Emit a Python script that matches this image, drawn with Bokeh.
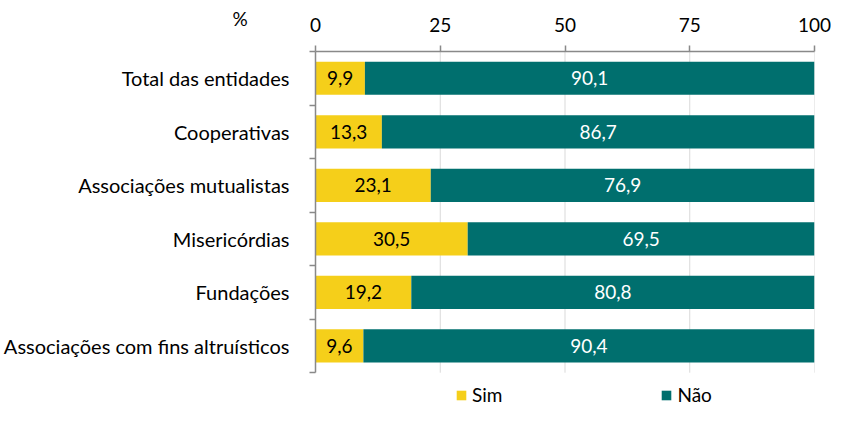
from bokeh.plotting import figure
from bokeh.models import ColumnDataSource, FixedTicker, Range1d, Legend
from bokeh.core.properties import value
from bokeh.embed import file_html
from bokeh.resources import INLINE

categories = ["Total das entidades", "Cooperativas", "Associações mutualistas",
              "Misericórdias", "Fundações", "Associações com fins altruísticos"]
sim = [9.9, 13.3, 23.1, 30.5, 19.2, 9.6]
nao = [90.1, 86.7, 76.9, 69.5, 80.8, 90.4]
x_ticks = [0, 25, 50, 75, 100]
series = ["Sim", "Não"]
unit_label = "%"

SIM_C = "#F5CF1A"
NAO_C = "#006F6E"
COLORS = [SIM_C, NAO_C]
FONT = "Lato"
GRAY = "#898989"

n = len(categories)
ypos = [n - 0.5 - i for i in range(n)]

def fmt(v):
    return f"{v:.1f}".replace(".", ",")

src = ColumnDataSource(dict(
    y=ypos, Sim=sim, Não=nao,
    sim_mid=[s / 2 for s in sim],
    nao_mid=[s + q / 2 for s, q in zip(sim, nao)],
    sim_lbl=[fmt(v) for v in sim],
    nao_lbl=[fmt(v) for v in nao],
))

# the y range reaches below the last bar to leave room for the legend
p = figure(width=831, height=407, output_backend="svg", toolbar_location=None,
           x_range=Range1d(0, 100), y_range=Range1d(-0.65, n),
           x_axis_location="above",
           min_border_left=308, min_border_right=17, min_border_top=48,
           min_border_bottom=0)
p.outline_line_color = None
p.xgrid.grid_line_color = None
p.ygrid.grid_line_color = None

# vertical gridlines at the tick values, limited to the category block
p.segment(x0=x_ticks, x1=x_ticks, y0=[0] * len(x_ticks), y1=[n] * len(x_ticks),
          line_color="#D9D9D9", line_width=1, level="underlay")

rs = p.hbar_stack(series, y="y", height=0.62, color=COLORS, source=src,
                  line_color=None)

p.text(x="sim_mid", y="y", text="sim_lbl", source=src, text_align="center",
       text_baseline="middle", text_font=value(FONT), text_font_size="19px",
       text_color="#000000")
p.text(x="nao_mid", y="y", text="nao_lbl", source=src, text_align="center",
       text_baseline="middle", text_font=value(FONT), text_font_size="19px",
       text_color="#FFFFFF")

# top axis
xa = p.xaxis[0]
xa.ticker = FixedTicker(ticks=x_ticks, minor_ticks=[])
xa.axis_line_color = GRAY
xa.axis_line_width = 1.5
xa.major_tick_line_color = GRAY
xa.major_tick_line_width = 1.5
xa.major_tick_out = 6
xa.major_tick_in = 0
xa.minor_tick_line_color = None
xa.major_label_standoff = 14
xa.major_label_text_font = FONT
xa.major_label_text_font_size = "19px"
xa.major_label_text_color = "#000000"

# left axis, limited to the category block
ya = p.yaxis[0]
ya.bounds = (0, n)
ya.ticker = FixedTicker(ticks=ypos, minor_ticks=list(range(n + 1)))
ya.major_label_overrides = {y: c for y, c in zip(ypos, categories)}
ya.axis_line_color = GRAY
ya.axis_line_width = 1.5
ya.major_tick_line_color = None
ya.major_tick_out = 0
ya.major_tick_in = 0
ya.minor_tick_line_color = GRAY
ya.minor_tick_line_width = 1.5
ya.minor_tick_out = 6
ya.minor_tick_in = 0
ya.major_label_standoff = 20
ya.major_label_text_font = FONT
ya.major_label_text_font_size = "20px"
ya.major_label_text_color = "#000000"

# "%" unit label, drawn by the title (second line), level with the tick labels
p.title.text = " \n" + unit_label
p.title.align = "left"
p.title.offset = -83
p.title.vertical_align = "top"
p.title.text_font = FONT
p.title.text_font_size = "19px"
p.title.text_font_style = "normal"
p.title.text_color = "#000000"
try:
    p.title.standoff = -34
except Exception:
    p.title.standoff = 0

legend = Legend(items=[(s, [r]) for s, r in zip(series, rs)], orientation="horizontal",
                spacing=158, padding=0, margin=0, border_line_color=None,
                background_fill_alpha=0,
                label_text_font=FONT, label_text_font_size="19px",
                label_text_color="#000000",
                glyph_width=12, glyph_height=12, label_standoff=5,
                location=(140, 1))
p.add_layout(legend)

open("out.html", "w").write(file_html(p, INLINE))
